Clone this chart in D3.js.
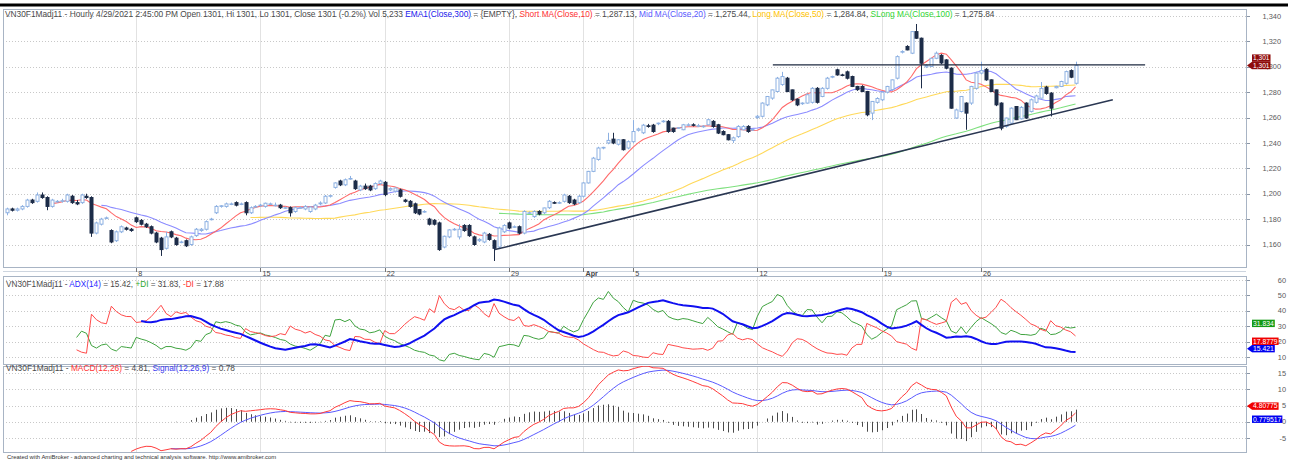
<!DOCTYPE html>
<html>
<head>
<meta charset="utf-8">
<script src="https://cdn.jsdelivr.net/npm/d3@7"></script>
<style>
html,body{margin:0;padding:0;background:#fff;}
svg{display:block;}
text{font-family:"Liberation Sans",Arial,Helvetica,sans-serif;}
</style>
</head>
<body>
<svg id="chart" width="1293" height="461"></svg>
<script>
// ================= DATA =================
const opens = [
1185,1188,1187,1188,1190,1195,1194,1199,1197,1190,
1194,1194,1194,1198,1193,1193,1198,1197,1169,1176,
1181,1171,1163,1170,1173,1172,1181,1179,1176,1174,
1169,1165,1157,1170,1165,1162,1163,1160,1167,1171,
1172,1180,1185,1190,1190,1192,1193,1192,1193,1185,
1190,1191,1190,1192,1191,1191,1189,1189,1186,1189,
1188,1186,1188,1192,1192.7,1198,1205,1210,1207,1212,
1210,1203,1206,1206,1204,1208,1209,1203,1202,1203,
1195,1194,1192,1187.5,1186,1180,1179,1177,1158,1166,
1172,1166,1175,1175,1166,1163,1162,1168,1163,1158,
1170,1177,1174,1174,1169,1185,1182,1186,1185,1189,
1193,1193,1194,1198,1195,1193,1198,1208.5,1217.6,1227,
1236,1240,1243,1239,1242.5,1236,1241,1250,1248,1253.5,
1254,1255.5,1257,1257,1251.7,1251.5,1250.4,1254,1254.3,1253.5,
1253,1254.3,1257,1254.3,1249,1246.5,1242,1245,1250.4,1253,
1250.4,1260,1261,1270,1275.3,1280.5,1286,1291,1281.8,1274.5,
1271,1271.4,1272,1283,1276.6,1283,1292,1297.6,1293.6,1296,
1292.3,1284.5,1284.5,1280.5,1263.5,1272,1274,1280,1282,1291,
1311.5,1316,1310.7,1327.7,1322.5,1300,1300.2,1306.7,1309,1305.4,
1298.9,1259.6,1264.8,1271.4,1271.4,1283,1295,1298,1289.7,1281.8,
1271.4,1253,1255.6,1268.7,1259,1271.4,1264.8,1272,1275.3,1284,
1279.2,1283.5,1284.5,1287,1297,1287];
const highs = [
1189,1189,1189,1191,1196,1196,1201,1201,1198,1196,
1195,1196,1200,1199,1195,1200,1200,1198,1178,1181,
1182,1172,1171,1175,1174,1173,1182,1180,1177,1175,
1170,1166,1170,1171,1166,1163,1164,1167,1173,1173,
1179,1181,1191,1191,1193,1193,1194,1193,1194,1190,
1191,1192,1193,1193,1193,1192,1190,1190,1190,1190,
1191,1190,1192,1194,1199,1199,1209,1211,1212,1214,
1211,1207,1208,1207,1209,1211,1210,1205,1205,1204,
1196,1195,1193,1188,1187,1181,1180,1178,1167,1172,
1173,1176,1176,1176,1167,1165,1170,1169,1164,1174,
1176,1178,1175,1175,1187,1186,1187,1187,1189,1195,
1194,1194,1200,1199,1196,1199,1209,1218,1229,1237,
1237,1248,1248,1243,1243,1242,1258,1252,1255,1255,
1255,1256,1258,1258,1252,1252.5,1255,1255.5,1255.5,1255,
1254,1259,1258,1255,1250,1247,1245,1254,1254,1254,
1251.5,1262,1272,1277,1282,1292,1296,1292,1282,1275,
1272,1279,1284,1284,1284,1292,1293,1298.5,1294.5,1297,
1293,1285,1285.5,1281,1273,1276,1281,1285,1290,1309,
1313,1317,1328,1333.7,1323,1302,1307,1312,1310,1306,
1299.5,1267,1277,1272,1285,1296,1304,1299,1290,1282,
1272,1260,1268,1269,1269,1272,1275,1278,1288,1285,
1280,1285,1289,1297,1298,1304];
const lows = [
1183,1186,1186,1187,1189,1192,1193,1196,1187,1189,
1193,1193,1193,1192,1191,1192,1196,1166,1168,1175,
1180,1161,1162,1169,1171,1170,1177,1175,1173,1168,
1161,1151,1156,1165,1159,1161,1158,1159,1166,1170,
1171,1179,1184,1189,1189,1191,1190,1191,1183,1184,
1189,1190,1189,1191,1190,1188,1188,1182,1185,1188,
1187,1185,1187,1191,1192,1197,1204,1206,1206,1211,
1203,1202,1203,1202,1203,1207,1198,1202,1201,1197,
1193,1189,1184,1183,1185,1175,1175,1155,1157,1165,
1171,1164,1170,1166,1159,1162,1161,1163,1147,1157,
1169,1172,1173,1168,1168,1184,1181,1183,1184,1188,
1192,1192,1193,1192,1191,1192,1197,1208,1217,1226,
1235,1239,1239,1238,1234,1235,1240,1249,1247,1252,
1248,1254,1256,1248,1248,1251,1250,1253,1253,1252.5,
1252,1254,1252,1247,1246,1242,1240,1244,1250,1248,
1249.5,1259,1260,1269,1274,1280,1285,1280,1273,1269,
1270,1271,1271,1271,1276,1282,1291,1293,1292.5,1290,
1284,1281,1280,1261,1258,1271,1273,1279,1281,1290,
1310.5,1313,1310,1322,1283,1299,1300,1306,1302,1298,
1267,1259,1264,1250.4,1270,1282,1294,1289,1280,1269,
1250,1252,1255,1258,1258.5,1259,1264,1271,1275,1278,
1260.9,1283,1284,1286,1291,1286];
const closes = [
1188,1187,1188,1190,1195,1193,1199,1197,1190,1195,
1194,1194.5,1199,1193,1192,1199,1197,1169,1177,1180,
1181,1162,1170,1174,1172,1171,1178,1176,1174,1169,
1162,1156,1166,1166,1160,1162,1159,1166,1172,1172,
1178,1180,1190,1190.5,1192,1192,1191,1192,1185,1189,
1190,1191,1192.5,1192,1191,1189,1189,1185,1189,1189,
1190,1189.5,1191,1192.7,1198,1198.5,1208.5,1207,1211,1212,
1204,1206,1204,1203,1208,1210,1199.3,1204,1204.5,1198,
1194,1190,1185,1184,1186,1176,1176,1156,1166.5,1171.5,
1172,1172,1171,1167,1160,1164,1169,1164,1157,1173,
1175,1173,1174,1169,1186,1185,1186,1184,1188.8,1194,
1192.7,1193,1199,1193,1192,1198,1208.5,1217.6,1228,1236,
1236.5,1242,1240,1242.5,1234.7,1241,1249,1251,1254,1253,
1249,1255.6,1257.2,1249,1249,1252,1254.3,1254.3,1254,1253.6,
1253.2,1258.3,1253,1247.8,1246.5,1242.5,1244,1253,1253,1249,
1250.6,1261,1271.4,1276.6,1281.8,1291,1292.3,1280.5,1274,1270,
1271.4,1278,1283,1272,1283,1291,1292.3,1293.6,1293.4,1291,
1284.5,1282,1280.5,1262.2,1272.7,1275,1280,1284.5,1289.7,1308,
1312,1313.3,1327.7,1322.5,1302.8,1301,1306.7,1310.7,1303,1298.9,
1267.4,1266,1276.6,1263.5,1284.5,1295,1297,1289.7,1280.5,1270,
1251.7,1259.6,1267.4,1258.3,1268,1259.6,1274,1277,1283,1279,
1267.4,1284.5,1288.4,1296.2,1291.8,1301];

const dateLabels = ["8","15","22","29","Apr","5","12","19","26"];
const dateIndex  = [26,51,76,101,116,126,151,176,196];
const priceTicks = [1160,1180,1200,1220,1240,1260,1280,1300,1320,1340];
const adxTicks   = [10,20,30,40,50,60];
const macdTicks  = [-5,0,5,10,15];
// drawn study lines: [barIndex, price]
const supportLine    = [[98.2,1156],[222.5,1274]];
const resistanceLine = [[154.1,1301.5],[229,1301.5]];
// right-axis value boxes
const priceBoxTexts = ["1,301","1,301"];
const priceBoxValues = [1301,1301];
const adxBoxTexts  = ["31.834","17.8779","15.421"];
const adxBoxValues = [31.834,17.8779,15.421];
const macdBoxTexts  = ["4.80775","0.779517"];
const macdBoxValues = [4.80775,0.779517];

const priceTitle = ["VN30F1Madj11 - Hourly 4/29/2021 2:45:00 PM Open 1301, Hi 1301, Lo 1301, Close 1301 (-0.2%) Vol 5,233 ",
  "EMA1(Close,300)"," = {EMPTY}, ","Short MA(Close,10)"," = 1,287.13, ","Mid MA(Close,20)"," = 1,275.44, ",
  "Long MA(Close,50)"," = 1,284.84, ","SLong MA(Close,100)"," = 1,275.84"];
const adxTitle = ["VN30F1Madj11 - ","ADX(14)"," = 15.42, ","+DI"," = 31.83, ","-DI"," = 17.88"];
const macdTitle = ["VN30F1Madj11 - ","MACD(12,26)"," = 4.81, ","Signal(12,26,9)"," = 0.78"];
const credit = "Created with AmiBroker - advanced charting and technical analysis software. http://www.amibroker.com";

// ================= INDICATORS (as defined in the chart titles) =================
const N = closes.length;
function sma(a,n){return a.map((_,i)=> i<n-1?null:d3.mean(a.slice(i-n+1,i+1)));}
function ema(a,n){
  const out=Array(a.length).fill(null), k=2/(n+1);
  const f=a.findIndex(v=>v!=null); const s=f+n-1; if(f<0||s>=a.length) return out;
  out[s]=d3.mean(a.slice(f,s+1));
  for(let i=s+1;i<a.length;i++) out[i]=a[i]*k+out[i-1]*(1-k);
  return out;
}
const ma10=sma(closes,10), ma20=sma(closes,20), ma50=sma(closes,50), ma100=sma(closes,100);
const e12=ema(closes,12), e26=ema(closes,26);
const macd=closes.map((_,i)=> e26[i]==null?null:e12[i]-e26[i]);
const signal=ema(macd,9);
const hist=macd.map((m,i)=> (m==null||signal[i]==null)?null:m-signal[i]);
// ADX (Wilder)
const P=14, tr=[null], pdm=[null], mdm=[null];
for(let i=1;i<N;i++){
  tr.push(Math.max(highs[i]-lows[i],Math.abs(highs[i]-closes[i-1]),Math.abs(lows[i]-closes[i-1])));
  const up=highs[i]-highs[i-1], dn=lows[i-1]-lows[i];
  pdm.push(up>dn&&up>0?up:0); mdm.push(dn>up&&dn>0?dn:0);
}
const pdi=Array(N).fill(null), mdi=Array(N).fill(null), dx=Array(N).fill(null), adx=Array(N).fill(null);
let sT=0,sP=0,sM=0;
for(let i=1;i<N;i++){
  if(i<=P){sT+=tr[i];sP+=pdm[i];sM+=mdm[i];}
  else{sT=sT-sT/P+tr[i];sP=sP-sP/P+pdm[i];sM=sM-sM/P+mdm[i];}
  if(i>=P){pdi[i]=100*sP/sT; mdi[i]=100*sM/sT; const s=pdi[i]+mdi[i]; dx[i]=s?100*Math.abs(pdi[i]-mdi[i])/s:0;}
}
for(let i=2*P-1;i<N;i++){
  if(i===2*P-1) adx[i]=d3.mean(dx.slice(P,2*P));
  else adx[i]=(adx[i-1]*(P-1)+dx[i])/P;
}

// ================= LAYOUT =================
const svg=d3.select("#chart");
const L=3, R=1246;
const pane={price:[9,267], adx:[276,364], macd:[366,452]};
const x=d3.scaleLinear().domain([-0.8,249.3]).range([L,R]);
const yP=d3.scaleLinear().domain([1160,1340]).range([244.5,16]);
const yA=d3.scaleLinear().domain([10,60]).range([357,280]);
const yM=d3.scaleLinear().domain([-5,15]).range([438,373]);

// top black bar
svg.append("rect").attr("x",0).attr("y",3.5).attr("width",1288).attr("height",3).attr("fill","#000");

const defs=svg.append("defs");
Object.entries(pane).forEach(([k,[t,b]])=>{
  defs.append("clipPath").attr("id","clip-"+k).append("rect").attr("x",L).attr("y",t).attr("width",R-L).attr("height",b-t);
});

function drawPaneFrame(key, yScale, ticks){
  const [t,b]=pane[key];
  const g=svg.append("g");
  // vertical grid
  g.selectAll("line.vg").data(dateIndex).join("line")
    .attr("x1",d=>Math.round(x(d))+0.5).attr("x2",d=>Math.round(x(d))+0.5)
    .attr("y1",t).attr("y2",b).attr("stroke","#e2e2e2").attr("stroke-width",1);
  // horizontal grid
  g.selectAll("line.hg").data(ticks).join("line")
    .attr("x1",L).attr("x2",R).attr("y1",d=>Math.round(yScale(d))+0.5).attr("y2",d=>Math.round(yScale(d))+0.5)
    .attr("stroke","#c8c8c8").attr("stroke-dasharray","1,2");
  // frame
  g.append("rect").attr("x",L+0.5).attr("y",t+0.5).attr("width",R-L).attr("height",b-t)
    .attr("fill","none").attr("stroke","#a8b4c4");
  // axis ticks & labels
  const ax=svg.append("g");
  ax.selectAll("line").data(ticks).join("line")
    .attr("x1",R+1).attr("x2",R+4).attr("y1",d=>Math.round(yScale(d))+0.5).attr("y2",d=>Math.round(yScale(d))+0.5)
    .attr("stroke","#8a96a6");
  ax.selectAll("text").data(ticks).join("text")
    .attr("x",key==="price"?1281:1286).attr("y",d=>yScale(d)+2.6).attr("text-anchor","end")
    .attr("font-size",7.4).attr("fill","#5a5a5a")
    .text(d=>key==="price"?d3.format(",")(d):d);
  return g;
}
drawPaneFrame("price",yP,priceTicks);
drawPaneFrame("adx",yA,adxTicks);
drawPaneFrame("macd",yM,macdTicks);

// date strip lines and labels
svg.append("line").attr("x1",L).attr("x2",R).attr("y1",271.5).attr("y2",271.5).attr("stroke","#cdd5df");
const dl=svg.append("g");
dl.selectAll("line").data(dateIndex).join("line")
  .attr("x1",d=>Math.round(x(d))+0.5).attr("x2",d=>Math.round(x(d))+0.5).attr("y1",268).attr("y2",272)
  .attr("stroke","#777");
dl.selectAll("text").data(dateLabels).join("text")
  .attr("x",(d,i)=>x(dateIndex[i])+2).attr("y",276).attr("font-size",7.2)
  .attr("font-weight",d=>d==="Apr"?"bold":"normal").attr("fill","#444").text(d=>d);

// ================= PRICE PANE =================
const gp=svg.append("g").attr("clip-path","url(#clip-price)");
const idx=d3.range(N);
const upStroke="#8cb0e2", dnFill="#1d2c48";
const isUp=i=>closes[i]>=opens[i];
const maLine=(arr,col)=>gp.append("path").datum(idx)
  .attr("d",d3.line().defined(i=>arr[i]!=null).x(i=>x(i)).y(i=>yP(arr[i])))
  .attr("fill","none").attr("stroke",col).attr("stroke-width",1.1);
maLine(ma100,"#7ee07e");
maLine(ma50,"#ffd95a");
maLine(ma20,"#8c8cff");
maLine(ma10,"#ff6a6a");
gp.selectAll("line.wick").data(idx).join("line").attr("class","wick")
  .attr("x1",i=>Math.round(x(i))+0.5).attr("x2",i=>Math.round(x(i))+0.5)
  .attr("y1",i=>yP(highs[i])).attr("y2",i=>yP(lows[i]))
  .attr("stroke",i=>isUp(i)?upStroke:dnFill).attr("stroke-width",1);
gp.selectAll("rect.body").data(idx).join("rect").attr("class","body")
  .attr("x",i=>Math.round(x(i))-1)
  .attr("width",3)
  .attr("y",i=>yP(Math.max(opens[i],closes[i])))
  .attr("height",i=>Math.max(0.6,Math.abs(yP(opens[i])-yP(closes[i]))))
  .attr("fill",i=>isUp(i)?"#fff":dnFill)
  .attr("stroke",i=>isUp(i)?upStroke:dnFill).attr("stroke-width",1);
// study lines
const studyLine=d3.line().x(d=>x(d[0])).y(d=>yP(d[1]));
svg.append("path").attr("d",studyLine(supportLine)).attr("stroke","#2a3752").attr("stroke-width",1.6).attr("fill","none");
svg.append("path").attr("d",studyLine(resistanceLine)).attr("stroke","#1e2a40").attr("stroke-width",1.1).attr("fill","none");

// ================= ADX PANE =================
const ga=svg.append("g").attr("clip-path","url(#clip-adx)");
const aLine=(arr,col,w)=>ga.append("path").datum(idx)
  .attr("d",d3.line().defined(i=>arr[i]!=null).x(i=>x(i)).y(i=>yA(arr[i])))
  .attr("fill","none").attr("stroke",col).attr("stroke-width",w);
aLine(pdi,"#3fa33f",1);
aLine(mdi,"#ff4a4a",1);
aLine(adx,"#1010f0",2);

// ================= MACD PANE =================
const gm=svg.append("g").attr("clip-path","url(#clip-macd)");
gm.selectAll("line.h").data(idx.filter(i=>hist[i]!=null)).join("line")
  .attr("x1",i=>Math.round(x(i))+0.5).attr("x2",i=>Math.round(x(i))+0.5)
  .attr("y1",yM(0)).attr("y2",i=>yM(hist[i])).attr("stroke","#4a4a4a").attr("stroke-width",1);
const mLine=(arr,col)=>gm.append("path").datum(idx)
  .attr("d",d3.line().defined(i=>arr[i]!=null).x(i=>x(i)).y(i=>yM(arr[i])))
  .attr("fill","none").attr("stroke",col).attr("stroke-width",1);
mLine(signal,"#5a5aff");
mLine(macd,"#ff3a3a");

// ================= VALUE BOXES =================
function boxes(texts,values,yScale,colors,arrows,fs){
  const h=7.4; const items=texts.map((t,i)=>({t,v:values[i],c:colors[i],a:arrows[i],y:yScale(values[i])}));
  // resolve overlaps: arrowed boxes fixed, others pushed away
  const fixed=items.filter(d=>d.a);
  items.filter(d=>!d.a).forEach(d=>{
    fixed.forEach(f=>{ if(Math.abs(d.y-f.y)<h){ d.y = d.y<=f.y? f.y-h : f.y+h; } });
    fixed.push(d);
  });
  const g=svg.append("g");
  items.forEach(d=>{
    const tx=g.append("text").attr("x",R+7).attr("y",d.y+2.3).attr("font-size",fs).attr("fill","#fff").text(d.t);
    const w=tx.node().getComputedTextLength();
    g.insert("rect","text").attr("x",R+6).attr("y",d.y-h/2).attr("width",w+2).attr("height",h).attr("fill",d.c);
    if(d.a) g.insert("path","text").attr("d",`M${R+1},${d.y} L${R+6},${d.y-h/2} L${R+6},${d.y+h/2} Z`).attr("fill",d.c);
  });
}
boxes(priceBoxTexts,priceBoxValues,yP,["#8e0b0b","#8e0b0b"],[true,false],6.6);
boxes(adxBoxTexts,adxBoxValues,yA,["#139a13","#f00000","#0000f0"],[false,false,true],6.8);
boxes(macdBoxTexts,macdBoxValues,yM,["#f00000","#0000f0"],[true,false],6.8);

// ================= TITLES =================
function title(parts,colors,xPos,yPos,targetW){
  const t=svg.append("text").attr("x",xPos).attr("y",yPos).attr("font-size",8);
  parts.forEach((p,i)=>t.append("tspan").attr("fill",colors[i]).text(p));
  const w=t.node().getComputedTextLength();
  t.attr("font-size",8*targetW/w);
}
const G="#4a4a4a";
title(priceTitle,[G,"#2020ee",G,"#ff3333",G,"#5a5aff",G,"#ffc400",G,"#33d633",G],5,16.5,992);
title(adxTitle,[G,"#2a2aff",G,"#2ea82e",G,"#ff3333",G],6,286.5,218);
title(macdTitle,[G,"#ff3333",G,"#3a3aee",G],6,371,229);
svg.append("text").attr("x",7).attr("y",458.5).attr("font-size",5.9).attr("fill","#333").text(credit);
</script>
</body>
</html>
